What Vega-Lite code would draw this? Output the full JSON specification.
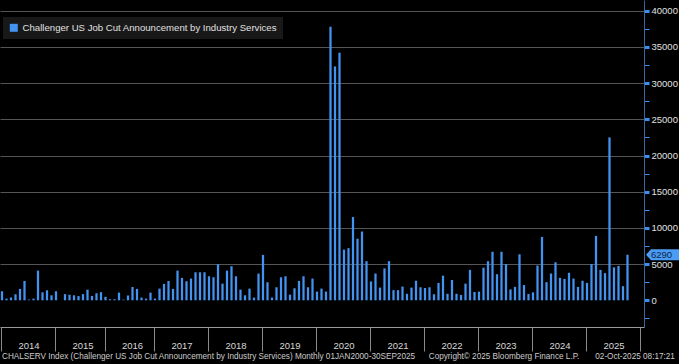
{
  "$schema": "https://vega.github.io/schema/vega-lite/v6.json",
  "width": 644,
  "height": 327,
  "autosize": {"type": "none"},
  "padding": {"left": 0, "top": 0, "right": 35, "bottom": 37},
  "background": "#000000",
  "config": {
    "view": {"stroke": null},
    "font": "Liberation Sans"
  },
  "title": {
    "text": "CHALSERV Index (Challenger US Job Cut Announcement by Industry Services) Monthly 01JAN2000-30SEP2025\u00a0\u00a0\u00a0\u00a0\u00a0\u00a0Copyright\u00a9 2025 Bloomberg Finance L.P.\u00a0\u00a0\u00a0\u00a0\u00a0\u00a0\u00a002-Oct-2025 08:17:21",
    "orient": "bottom",
    "anchor": "start",
    "frame": "group",
    "dx": 2,
    "offset": 1,
    "fontSize": 8.2,
    "fontWeight": "normal",
    "color": "#cccccc",
    "font": "Liberation Sans"
  },
  "data": {
    "values": [
      {"month": "2013-12", "value": 1240},
      {"month": "2014-01", "value": 230},
      {"month": "2014-02", "value": 370},
      {"month": "2014-03", "value": 830},
      {"month": "2014-04", "value": 1570},
      {"month": "2014-05", "value": 2670},
      {"month": "2014-06", "value": 100},
      {"month": "2014-07", "value": 230},
      {"month": "2014-08", "value": 4100},
      {"month": "2014-09", "value": 1100},
      {"month": "2014-10", "value": 1380},
      {"month": "2014-11", "value": 690},
      {"month": "2014-12", "value": 1240},
      {"month": "2015-01", "value": 0},
      {"month": "2015-02", "value": 850},
      {"month": "2015-03", "value": 760},
      {"month": "2015-04", "value": 690},
      {"month": "2015-05", "value": 580},
      {"month": "2015-06", "value": 850},
      {"month": "2015-08", "value": 1470},
      {"month": "2015-09", "value": 600},
      {"month": "2015-10", "value": 970},
      {"month": "2015-11", "value": 1120},
      {"month": "2015-12", "value": 480},
      {"month": "2016-01", "value": 140},
      {"month": "2016-02", "value": 140},
      {"month": "2016-03", "value": 1060},
      {"month": "2016-04", "value": 90},
      {"month": "2016-05", "value": 650},
      {"month": "2016-06", "value": 1840},
      {"month": "2016-08", "value": 1570},
      {"month": "2016-09", "value": 370},
      {"month": "2016-10", "value": 230},
      {"month": "2016-11", "value": 1060},
      {"month": "2016-12", "value": 230},
      {"month": "2017-01", "value": 1610},
      {"month": "2017-02", "value": 2260},
      {"month": "2017-03", "value": 2670},
      {"month": "2017-04", "value": 1570},
      {"month": "2017-05", "value": 4100},
      {"month": "2017-06", "value": 3090},
      {"month": "2017-07", "value": 2630},
      {"month": "2017-08", "value": 3000},
      {"month": "2017-09", "value": 3870},
      {"month": "2017-10", "value": 3870},
      {"month": "2017-11", "value": 3870},
      {"month": "2017-12", "value": 3320},
      {"month": "2018-01", "value": 3180},
      {"month": "2018-02", "value": 4980},
      {"month": "2018-03", "value": 2300},
      {"month": "2018-04", "value": 4100},
      {"month": "2018-05", "value": 4700},
      {"month": "2018-06", "value": 3320},
      {"month": "2018-07", "value": 1470},
      {"month": "2018-08", "value": 690},
      {"month": "2018-09", "value": 1610},
      {"month": "2018-10", "value": 370},
      {"month": "2018-11", "value": 3690},
      {"month": "2018-12", "value": 6270},
      {"month": "2019-01", "value": 2490},
      {"month": "2019-02", "value": 370},
      {"month": "2019-03", "value": 1800},
      {"month": "2019-04", "value": 3180},
      {"month": "2019-05", "value": 3320},
      {"month": "2019-06", "value": 780},
      {"month": "2019-07", "value": 1660},
      {"month": "2019-08", "value": 2670},
      {"month": "2019-09", "value": 3320},
      {"month": "2019-10", "value": 1800},
      {"month": "2019-11", "value": 3000},
      {"month": "2019-12", "value": 1200},
      {"month": "2020-01", "value": 1610},
      {"month": "2020-02", "value": 1200},
      {"month": "2020-03", "value": 37800},
      {"month": "2020-04", "value": 32300},
      {"month": "2020-05", "value": 34200},
      {"month": "2020-06", "value": 7000},
      {"month": "2020-07", "value": 7200},
      {"month": "2020-08", "value": 11500},
      {"month": "2020-09", "value": 8500},
      {"month": "2020-10", "value": 9500},
      {"month": "2020-11", "value": 5400},
      {"month": "2020-12", "value": 2600},
      {"month": "2021-01", "value": 3700},
      {"month": "2021-02", "value": 1750},
      {"month": "2021-03", "value": 4400},
      {"month": "2021-04", "value": 5400},
      {"month": "2021-05", "value": 1400},
      {"month": "2021-06", "value": 1400},
      {"month": "2021-07", "value": 1900},
      {"month": "2021-08", "value": 900},
      {"month": "2021-09", "value": 1750},
      {"month": "2021-10", "value": 2700},
      {"month": "2021-11", "value": 1800},
      {"month": "2021-12", "value": 1700},
      {"month": "2022-01", "value": 1800},
      {"month": "2022-02", "value": 830},
      {"month": "2022-03", "value": 2400},
      {"month": "2022-04", "value": 3400},
      {"month": "2022-05", "value": 900},
      {"month": "2022-06", "value": 2800},
      {"month": "2022-07", "value": 900},
      {"month": "2022-08", "value": 740},
      {"month": "2022-09", "value": 2300},
      {"month": "2022-10", "value": 4200},
      {"month": "2022-11", "value": 1150},
      {"month": "2022-12", "value": 1200},
      {"month": "2023-01", "value": 4500},
      {"month": "2023-02", "value": 5400},
      {"month": "2023-03", "value": 6700},
      {"month": "2023-04", "value": 3600},
      {"month": "2023-05", "value": 6700},
      {"month": "2023-06", "value": 5000},
      {"month": "2023-07", "value": 1500},
      {"month": "2023-08", "value": 1850},
      {"month": "2023-09", "value": 6350},
      {"month": "2023-10", "value": 2100},
      {"month": "2023-11", "value": 870},
      {"month": "2023-12", "value": 1100},
      {"month": "2024-01", "value": 4800},
      {"month": "2024-02", "value": 8750},
      {"month": "2024-03", "value": 2500},
      {"month": "2024-04", "value": 3700},
      {"month": "2024-05", "value": 5250},
      {"month": "2024-06", "value": 3100},
      {"month": "2024-07", "value": 2950},
      {"month": "2024-08", "value": 3800},
      {"month": "2024-09", "value": 3000},
      {"month": "2024-10", "value": 1850},
      {"month": "2024-11", "value": 2700},
      {"month": "2024-12", "value": 2400},
      {"month": "2025-01", "value": 5000},
      {"month": "2025-02", "value": 8900},
      {"month": "2025-03", "value": 4200},
      {"month": "2025-04", "value": 3750},
      {"month": "2025-05", "value": 22500},
      {"month": "2025-06", "value": 4550},
      {"month": "2025-07", "value": 4750},
      {"month": "2025-08", "value": 1950},
      {"month": "2025-09", "value": 6290}
    ]
  },
  "encoding": {
    "x": {
      "field": "month",
      "type": "ordinal",
      "sort": "ascending",
      "scale": {
        "domain": {"unionWith": ["2025-10", "2025-11", "2025-12"]},
        "paddingInner": 0.5,
        "paddingOuter": 0.3056,
        "align": 0.318,
        "round": false
      },
      "axis": {
        "title": null,
        "values": ["2013-12", "2014-12", "2015-12", "2016-12", "2017-12", "2018-12", "2019-12", "2020-12", "2021-12", "2022-12", "2023-12", "2024-12", "2025-12"],
        "labelExpr": "datum.value === '2025-12' ? '' : '' + (toNumber(substring(datum.value, 0, 4)) + 1)",
        "bandPosition": 0.5,
        "labelAngle": 0,
        "labelOffset": 27,
        "labelPadding": -6,
        "labelBaseline": "middle",
        "labelAlign": "center",
        "labelOverlap": false,
        "labelBound": false,
        "labelFlush": false,
        "labelColor": "#d8d8d8",
        "labelFontSize": 9.5,
        "tickSize": 24,
        "tickColor": "#8a8a8a",
        "tickWidth": 1,
        "domainColor": "#9a9a9a",
        "domainWidth": 1,
        "grid": false
      }
    },
    "y": {
      "field": "value",
      "type": "quantitative",
      "scale": {"domain": [-3690, 41480], "nice": false, "zero": false},
      "axis": {
        "title": null,
        "orient": "right",
        "values": [-2500, 0, 2500, 5000, 7500, 10000, 12500, 15000, 17500, 20000, 22500, 25000, 27500, 30000, 32500, 35000, 37500, 40000],
        "format": "d",
        "labelExpr": "datum.value % 5000 === 0 ? datum.label : ''",
        "labelColor": "#e0e0e0",
        "labelFontSize": 9.5,
        "labelPadding": 2,
        "labelOverlap": false,
        "labelBound": false,
        "labelFlush": false,
        "tickSize": 5,
        "tickColor": "#3d8fef",
        "tickWidth": {"condition": {"test": "datum.value % 5000 === 0", "value": 3}, "value": 1},
        "domainColor": "#3569a6",
        "domainWidth": 1,
        "grid": true,
        "gridColor": "#555555",
        "gridWidth": 1,
        "gridOpacity": {"condition": {"test": "datum.value % 5000 === 0 && datum.value > 0", "value": 1}, "value": 0}
      }
    }
  },
  "layer": [
    {
      "mark": {"type": "bar"},
      "encoding": {
        "color": {
          "datum": "Challenger US Job Cut Announcement by Industry Services",
          "type": "nominal",
          "scale": {"range": ["#4394f0"]},
          "legend": {
            "title": null,
            "orient": "none",
            "legendX": 3,
            "legendY": 17,
            "fillColor": "#181818",
            "padding": 6,
            "symbolType": "square",
            "symbolSize": 64,
            "symbolStrokeWidth": 0,
            "symbolFillColor": "#4da3ff",
            "labelColor": "#e0e0e0",
            "labelFontSize": 9.6,
            "labelFont": "Liberation Sans",
            "labelOffset": 4,
            "labelLimit": 400
          }
        }
      }
    },
    {
      "transform": [{"filter": "datum.month === '2025-09'"}],
      "mark": {
        "type": "point",
        "shape": "M0,0L5,-5.5L40,-5.5L40,5.5L5,5.5Z",
        "size": 4,
        "filled": true,
        "fill": "#4a9cf5",
        "opacity": 1,
        "strokeWidth": 0,
        "xOffset": 18.5
      },
      "encoding": {}
    },
    {
      "transform": [{"filter": "datum.month === '2025-09'"}],
      "mark": {
        "type": "text",
        "align": "left",
        "baseline": "middle",
        "fontSize": 9.5,
        "fill": "#0d2547",
        "xOffset": 23.5
      },
      "encoding": {
        "text": {"field": "value", "type": "quantitative", "format": "d"}
      }
    }
  ]
}
